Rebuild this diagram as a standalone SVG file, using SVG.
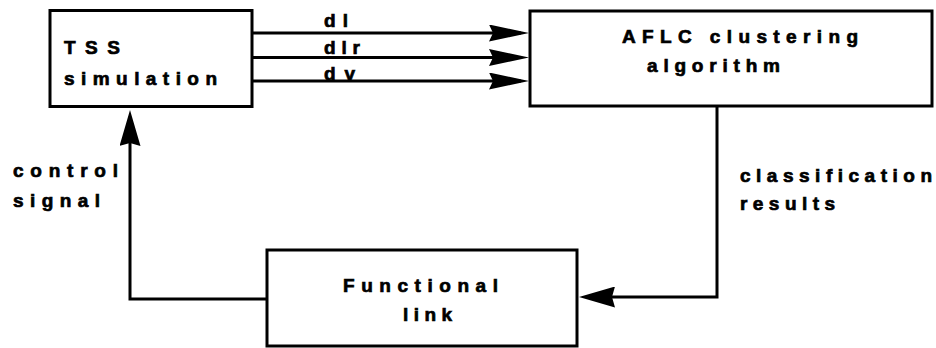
<svg xmlns="http://www.w3.org/2000/svg" width="936" height="348" viewBox="0 0 936 348">
<style>
  .box { fill: #fff; stroke: #000; stroke-width: 3; }
  .lbl { font-family: "Liberation Sans", Arial, sans-serif; font-weight: bold; font-size: 19px; fill: #000; stroke: #000; stroke-width: 0.7; }
  .edge { fill: none; stroke: #000; stroke-width: 3; }
</style>
<defs>
  <marker id="ahLong" markerUnits="userSpaceOnUse" viewBox="0 0 40 17" refX="32" refY="8.5" markerWidth="40" markerHeight="17" orient="auto">
    <path d="M0,0 L40,8.5 L0,17 L4,8.5 z" fill="#000"/>
  </marker>
  <marker id="ahShort" markerUnits="userSpaceOnUse" viewBox="0 0 36 21" refX="28" refY="10.5" markerWidth="36" markerHeight="21" orient="auto">
    <path d="M0,0 L36,10.5 L0,21 L3,10.5 z" fill="#000"/>
  </marker>
</defs>
<rect width="936" height="348" fill="#fff"/>

<g id="connectors">
  <path class="edge" d="M252,33 H521" marker-end="url(#ahLong)"/>
  <path class="edge" d="M252,57.5 H521" marker-end="url(#ahLong)"/>
  <path class="edge" d="M252,81 H521" marker-end="url(#ahLong)"/>
  <path class="edge" d="M267,299 H130 V118" marker-end="url(#ahShort)"/>
  <path class="edge" d="M717,106 V297 H587" marker-end="url(#ahShort)"/>
  <text class="lbl" x="324" y="27" font-size="18" textLength="24" lengthAdjust="spacing">dl</text>
  <text class="lbl" x="324" y="54" font-size="18" textLength="36" lengthAdjust="spacing">dlr</text>
  <text class="lbl" x="324" y="80" font-size="18" textLength="31" lengthAdjust="spacing">dv</text>
  <text class="lbl" x="13" y="177" textLength="105" lengthAdjust="spacing">control</text>
  <text class="lbl" x="13" y="207" textLength="87" lengthAdjust="spacing">signal</text>
  <text class="lbl" x="740" y="182" textLength="192" lengthAdjust="spacing">classification</text>
  <text class="lbl" x="740" y="210" textLength="95" lengthAdjust="spacing">results</text>
</g>

<g id="tss">
  <rect class="box" x="50" y="10.5" width="202" height="96"/>
  <text class="lbl" x="64" y="54" textLength="56" lengthAdjust="spacing">TSS</text>
  <text class="lbl" x="64" y="85" textLength="153" lengthAdjust="spacing">simulation</text>
</g>

<g id="aflc">
  <rect class="box" x="530" y="11" width="402" height="95"/>
  <text class="lbl" x="622" y="43" textLength="236" lengthAdjust="spacing">AFLC clustering</text>
  <text class="lbl" x="647" y="72" textLength="133" lengthAdjust="spacing">algorithm</text>
</g>

<g id="functional">
  <rect class="box" x="267" y="250" width="310" height="96"/>
  <text class="lbl" x="343" y="292" textLength="155" lengthAdjust="spacing">Functional</text>
  <text class="lbl" x="403" y="321" textLength="49" lengthAdjust="spacing">link</text>
</g>
</svg>
